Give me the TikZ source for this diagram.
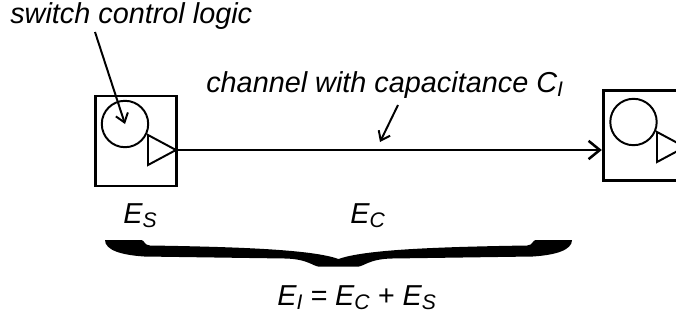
\documentclass[tikz,border=0pt]{standalone}
\usepackage{fontspec}
\setmainfont{Liberation Sans}
\usetikzlibrary{arrows.meta}
\newcommand{\lowsub}[1]{\raisebox{-0.14em}{\fontsize{15}{15}\selectfont #1}}

\begin{document}
\begin{tikzpicture}[x=0.025cm, y=-0.025cm, >={Straight Barb[length=6pt,width=9pt]},
  font=\fontsize{20.5}{24}\selectfont\itshape,
  switchbox/.style={draw, line width=2pt, minimum width=58pt, minimum height=64pt, inner sep=0pt},
  logic/.style={draw, circle, line width=1.4pt, minimum size=33pt, inner sep=0pt},
  driver/.style={line width=1.4pt, line join=miter},
  chan/.style={line width=1.8pt, -{Straight Barb[length=8pt,width=13pt]}},
  pointer/.style={line width=1.4pt, ->},
  label/.style={anchor=base west, inner sep=0pt}]
  \useasboundingbox (0,0) rectangle (676,323);
  \clip (0,0) rectangle (676,323);
  % Sending switch
  \node[switchbox] (srcbox) at (136,141) {};
  \node[logic] (srclogic) at (125,124) {};
  \draw[driver] (148,135) -- (176,150) -- (148,165) -- cycle;
  \coordinate (srcout) at (176,150);
  % Receiving switch
  \node[switchbox] (dstbox) at (644,135.5) {};
  \node[logic] (dstlogic) at (633.5,122) {};
  \draw[driver] (657,132) -- (685,147) -- (657,162) -- cycle;
  % Channel
  \draw[chan] (srcout) -- (srcout -| dstbox.west);
  % Labels
  \node[label] (logiclbl) at (10,23) {switch control logic};
  \node[label] (chanlbl) at (206,92) {channel with capacitance C\lowsub{I}};
  \node[label] (eslbl) at (123,223) {E\lowsub{S}};
  \node[label] (eclbl) at (350,223) {E\lowsub{C}};
  \node[label] (eilbl) at (277,305) {E\lowsub{I} = E\lowsub{C} + E\lowsub{S}};
  % Pointers
  \coordinate (logictail) at (95,32);
  \draw[pointer] (logictail) -- (srclogic.center);
  \coordinate (chantail) at (398,105);
  \coordinate (chantip) at (380,142);
  \draw[pointer] (chantail) -- (chantip);
  % Brace
  \fill (105,240) -- (141.5,240) .. controls (144.3,240) and (144.3,245.5) .. (150,245.5)
    .. controls (247.5,247) and (313.2,250) .. (338.5,259)
    .. controls (363.8,250) and (429.5,247) .. (527,245.5)
    .. controls (532.7,245.5) and (532.7,240) .. (535.5,240) -- (572,240)
    .. controls (572,250) and (556,255) .. (532.7,256.5) -- (392,258.5)
    .. controls (368.5,259) and (363.8,266.7) .. (357.3,266.7) -- (319.7,266.7)
    .. controls (313.2,266.7) and (308.5,259) .. (285,258.5) -- (144.3,256.5)
    .. controls (120.9,255) and (105,250) .. cycle;
\end{tikzpicture}
\end{document}
